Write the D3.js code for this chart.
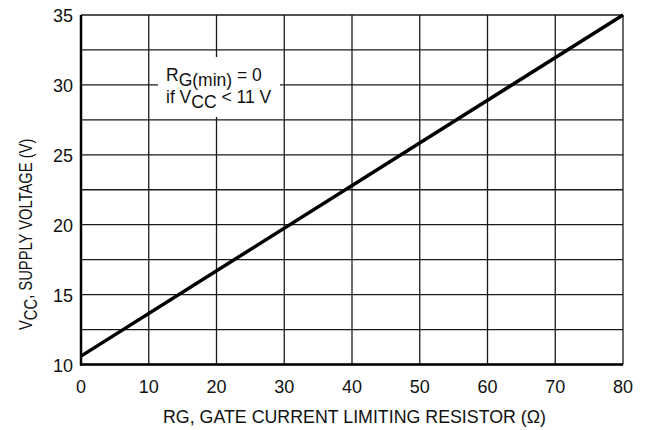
<!DOCTYPE html>
<html>
<head>
<meta charset="utf-8">
<script src="https://cdn.jsdelivr.net/npm/d3@7"></script>
<style>
  html, body { margin: 0; padding: 0; background: #fff; }
  text { font-family: "Liberation Sans", Arial, sans-serif; fill: #111; }
</style>
</head>
<body>
<svg id="chart" width="648" height="430"></svg>
<script>
// Data
const xTicks = [0, 10, 20, 30, 40, 50, 60, 70, 80];
const yTicks = [10, 15, 20, 25, 30, 35];
const yGrid = [10, 12.5, 15, 17.5, 20, 22.5, 25, 27.5, 30, 32.5, 35];
const rgValues = [0, 80];
const vccValues = [10.6, 35];

const svg = d3.select("#chart");
const pLeft = 81, pRight = 623, pTop = 15, pBottom = 364.5;

const x = d3.scaleLinear().domain([0, 80]).range([pLeft, pRight]);
const y = d3.scaleLinear().domain([10, 35]).range([pBottom, pTop]);

// grid
const g = svg.append("g");
g.selectAll(".hg").data(yGrid).enter().append("line")
  .attr("x1", pLeft).attr("x2", pRight)
  .attr("y1", d => y(d)).attr("y2", d => y(d))
  .attr("stroke", "#1a1a1a").attr("stroke-width", 1.3);
g.selectAll(".vg").data(xTicks).enter().append("line")
  .attr("y1", pTop).attr("y2", pBottom)
  .attr("x1", d => x(d)).attr("x2", d => x(d))
  .attr("stroke", "#1a1a1a").attr("stroke-width", 1.3);

// annotation box (white background)
svg.append("rect").attr("x", 158).attr("y", 57).attr("width", 122).attr("height", 60).attr("fill", "#fff");

// axes lines thicker
svg.append("line").attr("x1", pLeft).attr("x2", pLeft).attr("y1", pTop).attr("y2", pBottom + 1)
  .attr("stroke", "#000").attr("stroke-width", 2.5);
svg.append("line").attr("x1", pLeft - 1).attr("x2", pRight).attr("y1", pBottom).attr("y2", pBottom)
  .attr("stroke", "#000").attr("stroke-width", 2.5);

// data line
const line = d3.line().x((d, i) => x(rgValues[i])).y(d => y(d));
svg.append("path").datum(vccValues).attr("d", line)
  .attr("fill", "none").attr("stroke", "#000").attr("stroke-width", 3.5);

// tick labels
svg.selectAll(".yl").data(yTicks).enter().append("text")
  .attr("x", pLeft - 8).attr("y", d => y(d) + 7)
  .attr("text-anchor", "end").attr("font-size", 18).text(d => d);
svg.selectAll(".xl").data(xTicks).enter().append("text")
  .attr("x", d => x(d)).attr("y", 393)
  .attr("text-anchor", "middle").attr("font-size", 18).text(d => d);

// x title
svg.append("text").attr("x", 163).attr("y", 423)
  .attr("font-size", 18)
  .attr("textLength", 383).attr("lengthAdjust", "spacingAndGlyphs")
  .text("RG, GATE CURRENT LIMITING RESISTOR (Ω)");

// y title (slightly condensed along its length)
const yt = svg.append("text")
  .attr("transform", "translate(32,330) rotate(-90) scale(0.82,1)")
  .attr("font-size", 18);
yt.append("tspan").text("V");
yt.append("tspan").attr("dy", 5).text("CC");
yt.append("tspan").attr("dy", -5).text(", SUPPLY VOLTAGE (V)");

// annotation
const a1 = svg.append("text").attr("x", 166).attr("y", 81).attr("font-size", 17.5);
a1.append("tspan").text("R");
a1.append("tspan").attr("dy", 5).text("G(min)");
a1.append("tspan").attr("dy", -5).text(" = 0");
const a2 = svg.append("text").attr("x", 166).attr("y", 103).attr("font-size", 17.5);
a2.append("tspan").text("if V");
a2.append("tspan").attr("dy", 5).text("CC");
a2.append("tspan").attr("dy", -5).text(" < 11 V");
</script>
</body>
</html>
